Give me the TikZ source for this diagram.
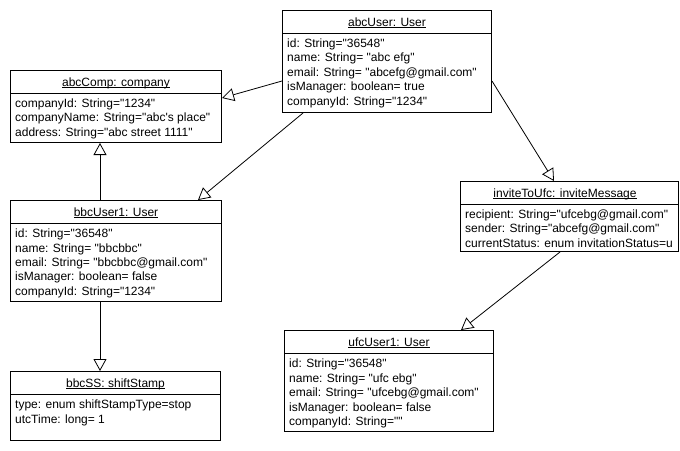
\documentclass[tikz,border=0pt]{standalone}
\usepackage{fontspec}
\setmainfont{Liberation Sans}[Ligatures=TeXOff]
\usetikzlibrary{arrows.meta}

% underline at a fixed distance below the baseline
\newcommand\umlul[1]{\setbox0\hbox{#1}\rlap{\rule[-1.7pt]{\wd0}{0.6pt}}\box0}

\tikzset{
  objbox/.style={draw, line width=1pt, rectangle, inner sep=0pt, anchor=north west},
  hdr/.style={inner sep=0pt, anchor=base, font=\fontsize{12}{14.5}\selectfont},
  attrs/.style={inner sep=0pt, anchor=north west, align=left,
                font=\fontsize{12}{14.5}\selectfont},
  divider/.style={line width=1pt},
  inherit/.style={line width=0.8pt, -{Triangle[open, length=12pt, width=13pt, line width=0.8pt]}}
}

\begin{document}
\begin{tikzpicture}[x=1pt, y=-1pt]
  \useasboundingbox (0,0) rectangle (680,450);
  \fill[white] (0,0) rectangle (680,450);

  % abcUser
  \node[objbox, minimum width=209pt, minimum height=102pt] (abcUser) at (282,10) {};
  \draw[divider] ([yshift=-23pt]abcUser.north west) -- ([yshift=-23pt]abcUser.north east);
  \node[hdr] (abcUserH) at ([yshift=-16pt]abcUser.north) {\umlul{abcUser: User}};
  \node[attrs] (abcUserA) at ([shift={(5,28.6)}]abcUser.north west)
    {id: String="36548"\\name: String= "abc efg"\\email: String= "abcefg@gmail.com"\\isManager: boolean= true\\companyId: String="1234"};

  % abcComp
  \node[objbox, minimum width=211pt, minimum height=72pt] (abcComp) at (10,70) {};
  \draw[divider] ([yshift=-23pt]abcComp.north west) -- ([yshift=-23pt]abcComp.north east);
  \node[hdr] (abcCompH) at ([yshift=-16pt]abcComp.north) {\umlul{abcComp: company}};
  \node[attrs] (abcCompA) at ([shift={(5,28.6)}]abcComp.north west)
    {companyId: String="1234"\\companyName: String="abc's place"\\address: String="abc street 1111"};

  % bbcUser1
  \node[objbox, minimum width=211pt, minimum height=101pt] (bbcUser) at (10,200) {};
  \draw[divider] ([yshift=-23pt]bbcUser.north west) -- ([yshift=-23pt]bbcUser.north east);
  \node[hdr] (bbcUserH) at ([yshift=-16pt]bbcUser.north) {\umlul{bbcUser1: User}};
  \node[attrs] (bbcUserA) at ([shift={(5,28.6)}]bbcUser.north west)
    {id: String="36548"\\name: String= "bbcbbc"\\email: String= "bbcbbc@gmail.com"\\isManager: boolean= false\\companyId: String="1234"};

  % bbcSS
  \node[objbox, minimum width=210pt, minimum height=69pt] (bbcSS) at (10,371) {};
  \draw[divider] ([yshift=-23pt]bbcSS.north west) -- ([yshift=-23pt]bbcSS.north east);
  \node[hdr] (bbcSSH) at ([yshift=-16pt]bbcSS.north) {\umlul{bbcSS: shiftStamp}};
  \node[attrs] (bbcSSA) at ([shift={(5,28.6)}]bbcSS.north west)
    {type: enum shiftStampType=stop\\utcTime: long= 1};

  % inviteToUfc
  \node[objbox, minimum width=218pt, minimum height=70pt] (invite) at (460,181) {};
  \draw[divider] ([yshift=-23pt]invite.north west) -- ([yshift=-23pt]invite.north east);
  \node[hdr] (inviteH) at ([shift={(105,16)}]invite.north west) {\umlul{inviteToUfc: inviteMessage}};
  \node[attrs] (inviteA) at ([shift={(5,28.6)}]invite.north west)
    {recipient: String="ufcebg@gmail.com"\\sender: String="abcefg@gmail.com"\\currentStatus: enum invitationStatus=u};

  % ufcUser1
  \node[objbox, minimum width=209pt, minimum height=101pt] (ufcUser) at (284,330) {};
  \draw[divider] ([yshift=-23pt]ufcUser.north west) -- ([yshift=-23pt]ufcUser.north east);
  \node[hdr] (ufcUserH) at ([yshift=-16pt]ufcUser.north) {\umlul{ufcUser1: User}};
  \node[attrs] (ufcUserA) at ([shift={(5,28.6)}]ufcUser.north west)
    {id: String="36548"\\name: String= "ufc ebg"\\email: String= "ufcebg@gmail.com"\\isManager: boolean= false\\companyId: String=""};

  % links
  \draw[inherit] ([yshift=-71pt]abcUser.north west) -- ([yshift=-28pt]abcComp.north east);
  \draw[inherit] ([xshift=21pt]abcUser.south west) -- ([xshift=-24pt]bbcUser.north east);
  \draw[inherit] ([yshift=-71pt]abcUser.north east) -- ([xshift=94pt]invite.north west);
  \draw[inherit] ([xshift=90pt]bbcUser.north west) -- ([xshift=90pt]abcComp.south west);
  \draw[inherit] ([xshift=90pt]bbcUser.south west) -- ([xshift=90pt]bbcSS.north west);
  \draw[inherit] ([xshift=100pt]invite.south west) -- ([xshift=177pt]ufcUser.north west);
\end{tikzpicture}
\end{document}
